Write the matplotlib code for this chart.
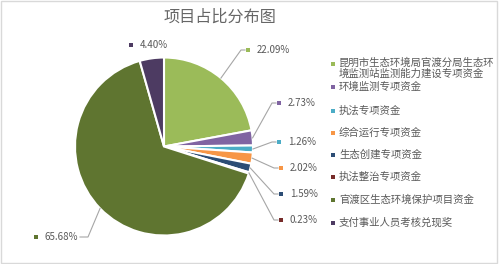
import numpy as np
import matplotlib.pyplot as plt
from matplotlib.patches import Rectangle

plt.rcParams['font.family'] = ['Noto Sans CJK SC', 'DejaVu Sans']

names = ['昆明市生态环境局官渡分局生态环\n境监测站监测能力建设专项资金', '环境监测专项资金', '执法专项资金',
         '综合运行专项资金', '生态创建专项资金', '执法整治专项资金',
         '官渡区生态环境保护项目资金', '支付事业人员考核兑现奖']
shares = [22.09, 2.73, 1.26, 2.02, 1.59, 0.23, 65.68, 4.40]
colors = ['#9BBB59', '#8064A2', '#4BACC6', '#F79646', '#2C4D75', '#772C2A', '#5F7530', '#4D3B62']

# label anchors in pixels (marker position), y measured from top
label_xy = [(248, 50), (279, 103), (279, 142), (281, 168), (281, 194), (281, 220), (36, 237), (131, 45)]
legend_y = [64, 87, 111, 133, 155, 177, 200, 223]

W, H = 499, 264
cx, cy, r = 164, 146.5, 89
txt = '#595959'
line_c = '#A6A6A6'

fig = plt.figure(figsize=(W / 100, H / 100), dpi=100)
ax = fig.add_axes([0, 0, 1, 1])
wedges, _ = ax.pie(shares, colors=colors, startangle=90, counterclock=False,
                   center=(cx, H - cy), radius=r,
                   wedgeprops=dict(edgecolor='white', linewidth=1.5))
ax.set_xlim(0, W)
ax.set_ylim(0, H)
ax.set_aspect('auto')
ax.axis('off')

# chart frame
ax.add_patch(Rectangle((0.5, 1.5), W - 2.5, H - 2, fill=False, edgecolor='#D9D9D9', lw=1))

ax.text(220, H - 17, '项目占比分布图', ha='center', va='center', fontsize=11.6, color='#666666')

for w, v, c, (lx, ly) in zip(wedges, shares, colors, label_xy):
    mid = np.deg2rad((w.theta1 + w.theta2) / 2)
    rx, ry = cx + r * np.cos(mid), (H - cy) + r * np.sin(mid)
    ly_d = H - ly
    if lx > cx + 50:
        ax.plot([rx, lx - 7, lx - 3], [ry, ly_d, ly_d], color=line_c, lw=0.8)
    elif lx < cx - 50:
        ax.plot([rx, lx + 52, lx + 44], [ry, ly_d, ly_d], color=line_c, lw=0.8)
    ax.scatter([lx], [ly_d], marker='s', s=7, color=c, linewidths=0)
    ax.text(lx + 9, ly_d, f'{v:.2f}%', ha='left', va='center', fontsize=7, color=txt)

# legend
for name, c, ly in zip(names, colors, legend_y):
    ax.scatter([333], [H - ly], marker='s', s=9, color=c, linewidths=0)
    if '\n' in name:
        ax.text(339, H - ly + 7, name, ha='left', va='top', fontsize=7.5, color=txt, linespacing=1.15)
    else:
        ax.text(339, H - ly + 0.5, name, ha='left', va='center', fontsize=7.5, color=txt)

fig.savefig('out.png', dpi=100)
